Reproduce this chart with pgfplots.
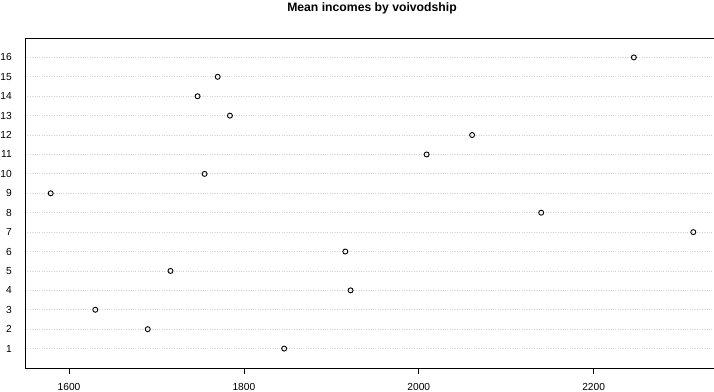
\documentclass[border=0pt]{standalone}
\usepackage{fontspec}
\setmainfont{Liberation Sans}
\usepackage{pgfplots}
\pgfplotsset{compat=1.18}

\definecolor{gridgray}{HTML}{D3D3D3}

\begin{document}
\begin{tikzpicture}
\begin{axis}[
  name=ax,
  scale only axis,
  width=694bp, height=330bp,
  xmin=1549.6, xmax=2343.4,
  ymin=0, ymax=17,
  axis x line*=box,
  axis y line*=left,
  xtick={1600,1800,2000,2200},
  ytick={1,...,16},
  xtick pos=bottom,
  ytick pos=left,
  tick align=outside,
  major tick length=6bp,
  ytick style={draw=none},
  xtick style={black, line width=0.8bp},
  /pgf/number format/assume math mode=true,
  /pgf/number format/1000 sep={},
  tick label style={font=\fontsize{10.2bp}{12bp}\selectfont, inner sep=0pt},
  xticklabel style={anchor=north, yshift=-9.5bp},
  yticklabel style={anchor=east, xshift=-7bp},
  axis line style={black, line width=0.9bp, -},
  ymajorgrids,
  major grid style={gridgray, line width=0.8bp, dash pattern=on 0.8bp off 1.6bp},
  title={Mean incomes by voivodship},
  title style={at={(0.5,1)}, anchor=base, yshift=21bp, inner sep=0pt,
    font=\fontsize{12.2bp}{14bp}\selectfont\bfseries},
  clip=false,
]
% mean income for each voivodship, listed from 1 to 16
\addplot[only marks, mark=o, mark size=2.5bp, line width=0.9bp, black]
  table[x=income, y=id] {
    id income
    1  1846
    2  1690
    3  1630
    4  1922
    5  1716
    6  1916
    7  2314
    8  2140
    9  1579
    10 1755
    11 2009
    12 2061
    13 1784
    14 1747
    15 1770
    16 2246
  };
\end{axis}
\pgfresetboundingbox
\path[use as bounding box] ([shift={(-25bp,-24bp)}]ax.south west)
  rectangle ([shift={(689bp,368bp)}]ax.south west);
\end{tikzpicture}
\end{document}
